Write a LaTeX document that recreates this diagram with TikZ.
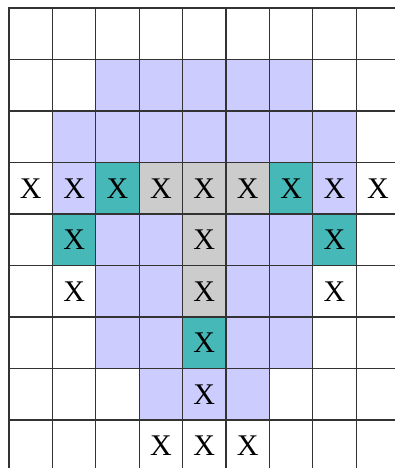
\documentclass[tikz,border=0pt]{standalone}
\usepackage{fontspec}
\setmainfont{Liberation Serif}
\definecolor{lav}{HTML}{CCCCFF}
\definecolor{tl}{HTML}{46B8B8}
\definecolor{gr}{HTML}{CCCCCC}
\begin{document}
\begin{tikzpicture}[x=1pt,y=-1pt,
  cell/.style={draw=black!80, line width=1.1pt, minimum width=43.4pt, minimum height=51.5pt,
    inner sep=0pt, outer sep=0pt, anchor=center, font=\fontsize{30}{31}\selectfont}]
\useasboundingbox (0,0) rectangle (395,468);
\clip (0,0) rectangle (395,468);
\fill[white] (0,0) rectangle (395,468);
\foreach \r/\row in {
  0/{white/,white/,white/,white/,white/,white/,white/,white/,white/},
  1/{white/,white/,lav/,lav/,lav/,lav/,lav/,white/,white/},
  2/{white/,lav/,lav/,lav/,lav/,lav/,lav/,lav/,white/},
  3/{white/X,lav/X,tl/X,gr/X,gr/X,gr/X,tl/X,lav/X,white/X},
  4/{white/,tl/X,lav/,lav/,gr/X,lav/,lav/,tl/X,white/},
  5/{white/,white/X,lav/,lav/,gr/X,lav/,lav/,white/X,white/},
  6/{white/,white/,lav/,lav/,tl/X,lav/,lav/,white/,white/},
  7/{white/,white/,white/,lav/,lav/X,lav/,white/,white/,white/},
  8/{white/,white/,white/,white/X,white/X,white/X,white/,white/,white/}}{
  \foreach \f/\t [count=\c from 0] in \row {
    \node[cell, fill=\f] (cell-\r-\c) at ({9+43.4*(\c+0.5)},{8+51.5*(\r+0.5)}) {\t};
  }
}
\end{tikzpicture}
\end{document}
